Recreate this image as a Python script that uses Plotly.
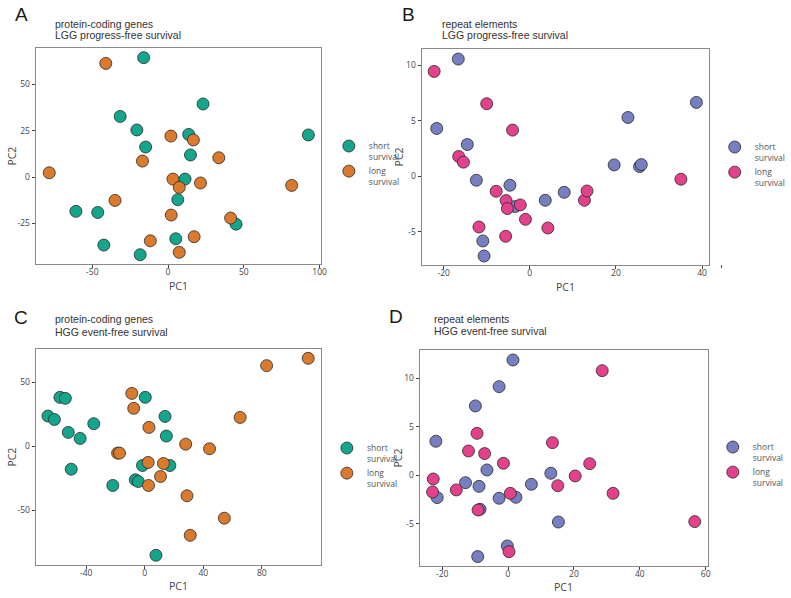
import plotly.graph_objects as go

W, H = 791, 598

# ---------------- data ----------------
# Panel A: protein-coding genes, LGG progress-free survival
a_short_x = [-16.1, 23.1, -31.6, -20.6, 13.6, -14.8, 14.8, 92.6, 11.2, 6.4, -60.8, -46.4, 44.9, -42.4, 5.1, -18.4]
a_short_y = [64.4, 39.4, 32.7, 25.4, 23.0, 16.2, 11.9, 22.7, -1.1, -12.2, -18.5, -19.1, -25.4, -36.7, -33.3, -41.9]
a_long_x = [-41.1, 1.9, 16.7, -16.9, 33.5, -78.4, 3.2, 7.4, 21.4, 81.6, -35.0, 2.1, 41.3, -11.7, 17.2, 7.4]
a_long_y = [61.3, 22.1, 20.0, 8.6, 10.4, 2.3, -1.1, -5.6, -3.2, -4.5, -12.6, -20.5, -22.1, -34.4, -32.2, -40.6]

# Panel B: repeat elements, LGG progress-free survival
b_short_x = [-16.6, -21.6, -14.5, -12.4, -4.6, -3.4, 3.6, 8.0, 19.6, 22.8, 25.5, 25.9, 38.7, -10.9, -10.6]
b_short_y = [10.57, 4.31, 2.86, -0.36, -0.81, -2.74, -2.17, -1.45, 1.02, 5.30, 0.87, 1.05, 6.66, -5.84, -7.20]
b_long_x = [-22.2, -10.0, -4.0, -16.5, -15.4, -7.8, -5.5, -5.2, -2.2, -1.0, -11.8, -5.6, 4.2, 12.7, 13.3, 35.1]
b_long_y = [9.46, 6.54, 4.16, 1.78, 1.27, -1.36, -2.20, -2.92, -2.59, -3.89, -4.58, -5.42, -4.67, -2.17, -1.33, -0.27]

# Panel C: protein-coding genes, HGG event-free survival
c_short_x = [-66.1, -61.7, -57.9, -54.2, -52.2, -44.1, -34.8, -50.2, 0.4, 13.9, 14.8, -1.5, 17.2, -21.8, -6.4, -4.4, 7.7]
c_short_y = [23.8, 21.1, 38.4, 37.6, 11.0, 6.3, 17.8, -17.8, 38.4, 23.5, 8.1, -14.9, -14.9, -30.5, -26.1, -27.4, -85.1]
c_long_x = [-8.8, -7.5, 2.9, -18.5, -17.2, 2.4, 12.8, 10.8, 2.6, 28.0, 44.3, 65.2, 83.3, 111.7, 28.9, 54.4, 31.1]
c_long_y = [41.5, 29.8, 14.9, -5.2, -5.2, -12.5, -13.3, -23.5, -30.5, 1.8, -1.8, 22.7, 63.2, 68.9, -38.6, -56.1, -69.5]

# Panel D: repeat elements, HGG event-free survival
d_short_x = [1.5, -2.7, -9.9, -21.9, -6.4, -12.9, -8.8, 7.1, 13.0, -21.5, -2.7, 2.4, -8.5, 15.3, -0.2, -9.2]
d_short_y = [11.9, 9.15, 7.16, 3.51, 0.55, -0.76, -1.14, -0.93, 0.21, -2.30, -2.37, -2.27, -3.51, -4.82, -7.29, -8.39]
d_long_x = [28.6, -9.4, -12.0, -7.1, -1.4, 13.5, 24.8, 20.4, 15.1, -22.7, -22.9, -15.7, 0.7, -9.1, 31.9, 56.7, 0.3]
d_long_y = [10.8, 4.33, 2.51, 2.24, 1.24, 3.37, 1.20, -0.07, -1.07, -0.38, -1.72, -1.51, -1.86, -3.58, -1.86, -4.78, -7.88]

# tick labels
a_xticks = [-50, 0, 50, 100]
a_yticks = [-25, 0, 25, 50]
b_xticks = [-20, 0, 20, 40]
b_yticks = [-5, 0, 5, 10]
c_xticks = [-40, 0, 40, 80]
c_yticks = [-50, 0, 50]
d_xticks = [-20, 0, 20, 40, 60]
d_yticks = [-5, 0, 5, 10]

panel_letters = ["A", "B", "C", "D"]
panel_titles = [
    ["protein-coding genes", "LGG progress-free survival"],
    ["repeat elements", "LGG progress-free survival"],
    ["protein-coding genes", "HGG event-free survival"],
    ["repeat elements", "HGG event-free survival"],
]
series_names = ["short<br>survival", "long<br>survival"]
x_title = "PC1"
y_title = "PC2"

# ---------------- styling ----------------
TEAL = "#14a68c"
ORANGE = "#da7a2c"
BLUE = "#7680c0"
PINK = "#e3418c"


def px(x):
    return x / W


def py(y):
    return 1 - y / H


panels = [
    dict(data=(a_short_x, a_short_y, a_long_x, a_long_y), colors=(TEAL, ORANGE),
         box=(37, 332, 48, 264), xr=(-87.3, 101.0), yr=(-46.9, 69.6),
         xt=a_xticks, yt=a_yticks, letter=(22, 15), title=(55, 23.5, 34.5),
         legend=(340, 134), xtitle_y=285.5, ytitle_x=12),
    dict(data=(b_short_x, b_short_y, b_long_x, b_long_y), colors=(BLUE, PINK),
         box=(436, 733, 49, 265), xr=(-25.1, 41.6), yr=(-8.01, 11.48),
         xt=b_xticks, yt=b_yticks, letter=(422, 15), title=(455, 24, 35),
         legend=(739, 135), xtitle_y=286.5, ytitle_x=413),
    dict(data=(c_short_x, c_short_y, c_long_x, c_long_y), colors=(TEAL, ORANGE),
         box=(37, 332, 349, 565), xr=(-74.4, 120.5), yr=(-92.7, 76.2),
         xt=c_xticks, yt=c_yticks, letter=(22, 317), title=(55, 319, 331.5),
         legend=(338, 436), xtitle_y=586, ytitle_x=12),
    dict(data=(d_short_x, d_short_y, d_long_x, d_long_y), colors=(BLUE, PINK),
         box=(434, 732, 350, 566), xr=(-26.8, 60.7), yr=(-9.36, 12.93),
         xt=d_xticks, yt=d_yticks, letter=(409, 316.5), title=(447, 319, 331),
         legend=(737, 435), xtitle_y=587, ytitle_x=412),
]

fig = go.Figure()
layout = dict(
    width=W, height=H, margin=dict(l=0, r=0, t=0, b=0),
    paper_bgcolor="white", plot_bgcolor="white",
    font=dict(family="Open Sans", size=9, color="#444444"),
    annotations=[], shapes=[],
)


def tick_text(vals):
    return [str(v) for v in vals]


AXIS_FONT = dict(family="Open Sans", size=10.5, color="#444444")

for i, p in enumerate(panels):
    n = "" if i == 0 else str(i + 1)
    xa, ya = "x" + n, "y" + n
    leg = "legend" if i == 0 else "legend" + str(i + 1)
    sx, sy, lx, ly = p["data"]
    c1, c2 = p["colors"]
    for k, (xs, ys, col, name) in enumerate(((sx, sy, c1, series_names[0]),
                                             (lx, ly, c2, series_names[1]))):
        fig.add_trace(go.Scatter(
            x=xs, y=ys, mode="markers", name=name, xaxis=xa, yaxis=ya, legend=leg,
            legendgroup=f"g{i}{k}",
            marker=dict(size=12, color=col, line=dict(color="#2a2a2a", width=0.8)),
            hoverinfo="x+y",
        ))
    x0, x1, y0, y1 = p["box"]
    axis_common = dict(
        showgrid=False, zeroline=False, showline=True, mirror=True,
        linecolor="#8a8a8a", linewidth=1.3, ticks="outside", ticklen=3,
        tickwidth=1, tickcolor="#444444",
        tickfont=dict(family="Open Sans", size=8.5, color="#444444"),
    )
    layout["xaxis" + n] = dict(
        axis_common, domain=[px(x0), px(x1)], range=list(p["xr"]), anchor=ya,
        tickvals=p["xt"], ticktext=tick_text(p["xt"]), ticklabelstandoff=-3,
    )
    layout["yaxis" + n] = dict(
        axis_common, domain=[py(y1), py(y0)], range=list(p["yr"]), anchor=xa,
        tickvals=p["yt"], ticktext=tick_text(p["yt"]),
    )
    # axis titles
    layout["annotations"].append(dict(
        text=x_title, x=px((x0 + x1) / 2), y=py(p["xtitle_y"]), xref="paper", yref="paper",
        xanchor="center", yanchor="middle", showarrow=False, font=AXIS_FONT,
    ))
    layout["annotations"].append(dict(
        text=y_title, x=px(p["ytitle_x"]), y=py((y0 + y1) / 2), xref="paper", yref="paper",
        xanchor="center", yanchor="middle", showarrow=False, textangle=-90, font=AXIS_FONT,
    ))
    lgx, lgy = p["legend"]
    layout[leg] = dict(
        x=px(lgx), y=py(lgy), xanchor="left", yanchor="top",
        bgcolor="rgba(0,0,0,0)", borderwidth=0, valign="top",
        font=dict(family="Open Sans", size=8.5, color="#555555"),
        itemwidth=30, tracegroupgap=5, traceorder="normal",
    )
    lx_, ly_ = p["letter"]
    layout["annotations"].append(dict(
        text=panel_letters[i], x=px(lx_), y=py(ly_), xref="paper", yref="paper",
        xanchor="center", yanchor="middle", showarrow=False,
        font=dict(family="Liberation Sans", size=19, color="#1a1a1a"),
    ))
    tx, ty1, ty2 = p["title"]
    for line, ty in zip(panel_titles[i], (ty1, ty2)):
        layout["annotations"].append(dict(
            text=line, x=px(tx), y=py(ty), xref="paper", yref="paper",
            xanchor="left", yanchor="middle", align="left", showarrow=False,
            font=dict(family="Liberation Sans", size=10.5, color="#333333"),
        ))

# stray tick mark visible below legend B in the original
layout["shapes"].append(dict(type="line", xref="paper", yref="paper",
                             x0=px(746), x1=px(746), y0=py(265), y1=py(268),
                             line=dict(color="#444444", width=1)))

fig.update_layout(**layout)
fig.write_html("out.html")
